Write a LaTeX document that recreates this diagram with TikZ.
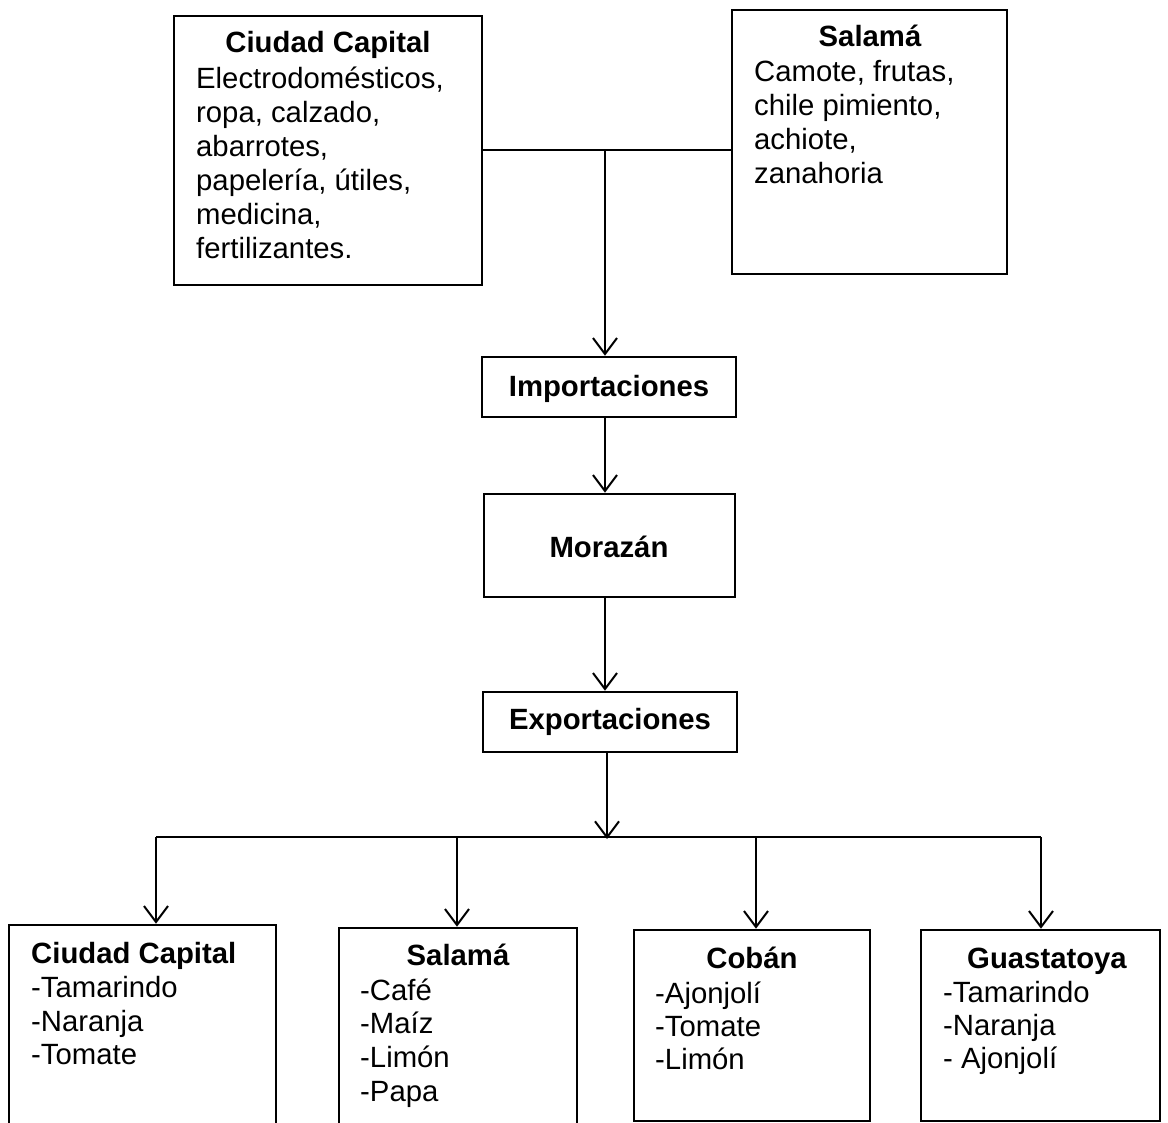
\documentclass[tikz,border=0pt]{standalone}
\usepackage{fontspec}
\setmainfont{Liberation Sans}
\usetikzlibrary{arrows.meta}
\begin{document}
\begin{tikzpicture}[x=1pt,y=-1pt,
  box/.style={draw, line width=2.6pt, rectangle, inner sep=0pt},
  conn/.style={line width=2pt},
  arr/.style={conn, -{Straight Barb[length=16pt,width=24pt,line width=2pt]}},
  ttl/.style={font=\fontsize{29.3}{34}\selectfont\bfseries, anchor=base, inner sep=0pt},
  txt/.style={font=\fontsize{29.3}{34}\selectfont, anchor=base west, inner sep=0pt}]
\useasboundingbox (0,0) rectangle (1168,1123);
\clip (0,0) rectangle (1168,1123);
\fill[white] (0,0) rectangle (1168,1123);
% boxes
\node[box, minimum width=308pt, minimum height=269pt] (cc) at (328,150.5) {};
\node[box, minimum width=275pt, minimum height=264pt] (sal) at (869.5,142) {};
\node[box, minimum width=254pt, minimum height=60pt] (imp) at (609,387) {};
\node[box, minimum width=251pt, minimum height=103pt] (mor) at (609.5,545.5) {};
\node[box, minimum width=254pt, minimum height=60pt] (exp) at (610,722) {};
\node[box, minimum width=267pt, minimum height=215pt] (b1) at (142.5,1032.5) {};
\node[box, minimum width=238pt, minimum height=212pt] (b2) at (458,1034) {};
\node[box, minimum width=236pt, minimum height=191pt] (b3) at (752,1025.5) {};
\node[box, minimum width=239pt, minimum height=191pt] (b4) at (1040.5,1025.5) {};
% top texts
\node[ttl] (ccT) at (328,53) {Ciudad Capital};
\node[txt] (cc1) at (196,89) {Electrodomésticos,};
\node[txt] (cc2) at (196,123) {ropa, calzado,};
\node[txt] (cc3) at (196,157) {abarrotes,};
\node[txt] (cc4) at (196,191) {papelería, útiles,};
\node[txt] (cc5) at (196,225) {medicina,};
\node[txt] (cc6) at (196,259) {fertilizantes.};
\node[ttl] (salT) at (870,47) {Salamá};
\node[txt] (sal1) at (754,82) {Camote, frutas,};
\node[txt] (sal2) at (754,116) {chile pimiento,};
\node[txt] (sal3) at (754,150) {achiote,};
\node[txt] (sal4) at (754,184) {zanahoria};
\node[ttl] (impT) at (609,397) {Importaciones};
\node[ttl] (morT) at (609,557) {Morazán};
\node[ttl] (expT) at (610,729) {Exportaciones};
% bottom texts
\node[txt, font=\fontsize{29.3}{34}\selectfont\bfseries] (b1T) at (31,963) {Ciudad Capital};
\node[txt] (b11) at (31,997) {-Tamarindo};
\node[txt] (b12) at (31,1031) {-Naranja};
\node[txt] (b13) at (31,1064) {-Tomate};
\node[ttl] (b2T) at (458,965) {Salamá};
\node[txt] (b21) at (360,1000) {-Café};
\node[txt] (b22) at (360,1033) {-Maíz};
\node[txt] (b23) at (360,1067) {-Limón};
\node[txt] (b24) at (360,1101) {-Papa};
\node[ttl] (b3T) at (752,968) {Cobán};
\node[txt] (b31) at (655,1003) {-Ajonjolí};
\node[txt] (b32) at (655,1036) {-Tomate};
\node[txt] (b33) at (655,1069) {-Limón};
\node[ttl] (b4T) at (1047,968) {Guastatoya};
\node[txt] (b41) at (943,1002) {-Tamarindo};
\node[txt] (b42) at (943,1035) {-Naranja};
\node[txt] (b43) at (943,1068) {- Ajonjolí};
% connectors
\coordinate (j1) at (605,150.5);
\coordinate (j2) at (607,837);
\coordinate (h1) at (156,837);
\coordinate (h2) at (457,837);
\coordinate (h3) at (756,837);
\coordinate (h4) at (1041,837);
\draw[conn] (cc.east) -- (cc.east -| sal.west);
\draw[arr] (j1) -- (j1 |- imp.north);
\draw[arr] (imp.south -| j1) -- (mor.north -| j1);
\draw[arr] (mor.south -| j1) -- (exp.north -| j1);
\draw[arr] (exp.south -| j2) -- ([yshift=-2pt]j2);
\draw[conn] (h1) -- (h4);
\draw[arr] (h1) -- (h1 |- b1.north);
\draw[arr] (h2) -- (h2 |- b2.north);
\draw[arr] (h3) -- (h3 |- b3.north);
\draw[arr] (h4) -- (h4 |- b4.north);
\end{tikzpicture}
\end{document}
